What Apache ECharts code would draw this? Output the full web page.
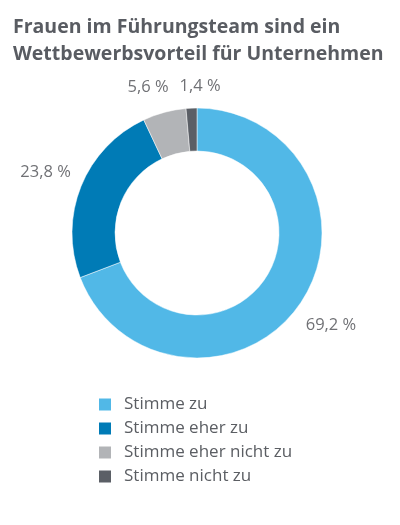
<!DOCTYPE html>
<html>
<head>
<meta charset="utf-8">
<script src="https://cdn.jsdelivr.net/npm/echarts@6/dist/echarts.min.js"></script>
<style>
  html, body { margin: 0; padding: 0; background: #fff; }
  #chart { width: 400px; height: 525px; }
</style>
</head>
<body>
<div id="chart"></div>
<script>
// Antworten und Anteile in Prozent
const categories = ['Stimme zu', 'Stimme eher zu', 'Stimme eher nicht zu', 'Stimme nicht zu']
const shares = [69.2, 23.8, 5.6, 1.4]
const colors = ['#51b8e7', '#007bb6', '#b2b4b7', '#5b5f66']

const titleText = 'Frauen im Führungsteam sind ein\nWettbewerbsvorteil für Unternehmen'

var chartDom = document.getElementById('chart')
var myChart = echarts.init(chartDom)

const labelFont = 16.5
const labelGap = 11    // Abstand Label <-> Ring
const labelMargin = 11 // Mindestabstand zwischen zwei Labels

const fmtPct = v => v.toFixed(1).replace('.', ',') + ' %'

// Labels auf der Winkelhalbierenden, Ueberlappungen symmetrisch auseinanderschieben
function placeLabels () {
  const data = myChart.getModel().getSeriesByIndex(0).getData()
  const ctx = document.createElement('canvas').getContext('2d')
  ctx.font = labelFont + 'px "Open Sans"'
  const items = shares.map((v, i) => {
    const lay = data.getItemLayout(i)
    const mid = (lay.startAngle + lay.endAngle) / 2
    const dx = Math.cos(mid), dy = Math.sin(mid)
    const w = ctx.measureText(fmtPct(v)).width
    const h = labelFont * 1.25
    const d = lay.r + labelGap + Math.abs(dx) * w / 2 + Math.abs(dy) * h / 2
    return { x: lay.cx + dx * d, y: lay.cy + dy * d, w: w, h: h }
  })
  for (let k = 0; k < 5; k++) {
    for (let a = 0; a < items.length; a++) {
      for (let b = a + 1; b < items.length; b++) {
        const A = items[a], B = items[b]
        if (Math.abs(A.y - B.y) > (A.h + B.h) / 2) continue
        const need = (A.w + B.w) / 2 + labelMargin - Math.abs(A.x - B.x)
        if (need <= 0) continue
        const s = A.x < B.x ? 1 : -1
        A.x -= s * need / 2
        B.x += s * need / 2
      }
    }
  }
  return items
}

const option = {
  animation: false,
  title: {
    text: titleText,
    left: 8,
    top: 9,
    textStyle: {
      fontFamily: 'Open Sans',
      fontWeight: 'bold',
      fontSize: 19.5,
      lineHeight: 27,
      color: '#595c62'
    }
  },
  legend: {
    orient: 'vertical',
    left: 92,
    top: 391,
    icon: 'rect',
    itemWidth: 14,
    itemHeight: 14,
    itemGap: 7,
    textStyle: {
      fontFamily: 'Open Sans',
      fontSize: 17,
      color: '#5b5e63',
      padding: [0, 0, 0, 7]
    },
    data: categories
  },
  series: [
    {
      type: 'pie',
      center: [197, 233],
      radius: [82, 125],
      startAngle: 90,
      clockwise: true,
      color: colors,
      itemStyle: { borderColor: '#fff', borderWidth: 0.5 },
      label: {
        show: true,
        position: 'outside',
        overflow: 'none',
        fontFamily: 'Open Sans',
        fontSize: labelFont,
        color: '#707175',
        formatter: p => fmtPct(p.value)
      },
      labelLine: { show: false },
      labelLayout: function (params) {
        const pos = placeLabels()[params.dataIndex]
        return {
          x: pos.x,
          y: pos.y,
          align: 'center',
          verticalAlign: 'middle'
        }
      },
      data: categories.map((c, i) => ({ name: c, value: shares[i] }))
    }
  ]
}

myChart.setOption(option)
</script>
</body>
</html>
